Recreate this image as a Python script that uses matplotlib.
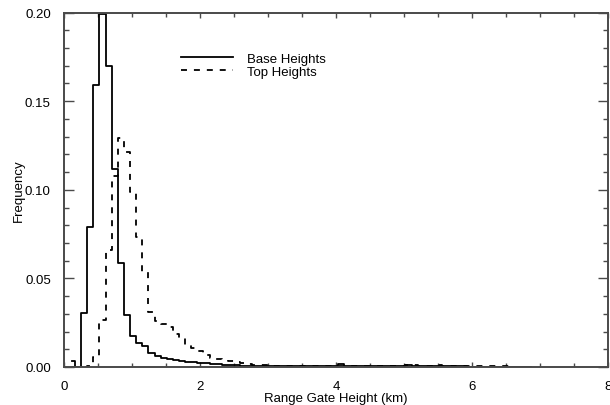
import matplotlib
matplotlib.use('Agg')
import numpy as np
import matplotlib.pyplot as plt
from matplotlib.ticker import MultipleLocator

# Histogram bins: range gates 0.09 km wide, first bin centred at 0.115 km
first_center = 0.115
bin_width = 0.09

base_freq = [
    0.0036, 0.0002, 0.0305, 0.0788, 0.159, 0.199, 0.170, 0.112, 0.0587, 0.0293,
    0.0177, 0.0135, 0.0117, 0.0079, 0.0064, 0.0053, 0.0045, 0.0039, 0.0034, 0.0030,
    0.0027, 0.0024, 0.0021, 0.0018, 0.0016, 0.0013, 0.0011, 0.0009, 0.0008, 0.0007,
    0.0006, 0.0006, 0.0005, 0.0005, 0.0004, 0.0004, 0.0004, 0.0003, 0.0004, 0.0003,
    0.0003, 0.0004, 0.0003, 0.0004, 0.0016, 0.0004, 0.0003, 0.0003, 0.0004, 0.0003,
    0.0004, 0.0003, 0.0005, 0.0004, 0.0008, 0.0010, 0.0007, 0.0005, 0.0004, 0.0005,
    0.0007, 0.0005, 0.0004, 0.0003, 0.0003, 0.0002, 0.0002, 0.0001, 0.0001, 0.0001,
    0.0001, 0.0000, 0.0000, 0.0000, 0.0000, 0.0000,
]

top_freq = [
    0.0000, 0.0000, 0.0000, 0.0005, 0.0055, 0.0263, 0.0660, 0.1080, 0.1290, 0.1216,
    0.0985, 0.0732, 0.0536, 0.0309, 0.0262, 0.0245, 0.0227, 0.0186, 0.0165, 0.0124,
    0.0110, 0.0092, 0.0065, 0.0049, 0.0045, 0.0041, 0.0035, 0.0030, 0.0022, 0.0017,
    0.0013, 0.0011, 0.0009, 0.0008, 0.0007, 0.0006, 0.0006, 0.0005, 0.0005, 0.0004,
    0.0004, 0.0005, 0.0004, 0.0004, 0.0006, 0.0005, 0.0004, 0.0004, 0.0005, 0.0004,
    0.0005, 0.0004, 0.0006, 0.0005, 0.0008, 0.0011, 0.0009, 0.0007, 0.0006, 0.0008,
    0.0010, 0.0008, 0.0006, 0.0007, 0.0005, 0.0006, 0.0004, 0.0004, 0.0005, 0.0003,
    0.0003, 0.0004, 0.0002, 0.0002, 0.0001, 0.0001,
]

plt.rcParams['font.family'] = ['Liberation Sans', 'DejaVu Sans']
plt.rcParams['font.size'] = 9.5
plt.rcParams['lines.scale_dashes'] = False

axis_color = '#4a4a4a'

centers = first_center + bin_width * np.arange(len(base_freq))

fig = plt.figure(figsize=(6.10, 4.06), dpi=100)
ax = fig.add_axes([0.105, 0.0936, 0.892, 0.873])

ax.step(centers, base_freq, where='mid', color='black', lw=1.3,
        label='Base Heights')
ax.step(centers, top_freq, where='mid', color='black', lw=1.3,
        linestyle=(0, (4.3, 5.0)), label='Top Heights')

ax.set_xlim(0, 8)
ax.set_ylim(0, 0.2)
ax.xaxis.set_major_locator(MultipleLocator(2))
ax.xaxis.set_minor_locator(MultipleLocator(0.5))
ax.yaxis.set_major_locator(MultipleLocator(0.05))
ax.yaxis.set_minor_locator(MultipleLocator(0.01))
ax.yaxis.set_major_formatter(matplotlib.ticker.FormatStrFormatter('%.2f'))

ax.tick_params(which='both', direction='in', top=True, right=True,
               color=axis_color, width=1.0, pad=9.5)
ax.tick_params(axis='y', which='major', length=7.2)
ax.tick_params(axis='y', which='minor', length=3.6)
ax.tick_params(axis='x', which='major', length=3.6)
ax.tick_params(axis='x', which='minor', length=3.0)
for s in ax.spines.values():
    s.set_color(axis_color)
    s.set_linewidth(1.4)

ax.set_xlabel('Range Gate Height (km)', labelpad=-0.4)
ax.set_ylabel('Frequency', labelpad=0)

ax.legend(loc='upper left', bbox_to_anchor=(0.2145, 0.887), frameon=False,
          borderpad=0, borderaxespad=0, handlelength=3.95, handletextpad=1.06,
          labelspacing=0.05)

fig.savefig('out.png', dpi=100)
